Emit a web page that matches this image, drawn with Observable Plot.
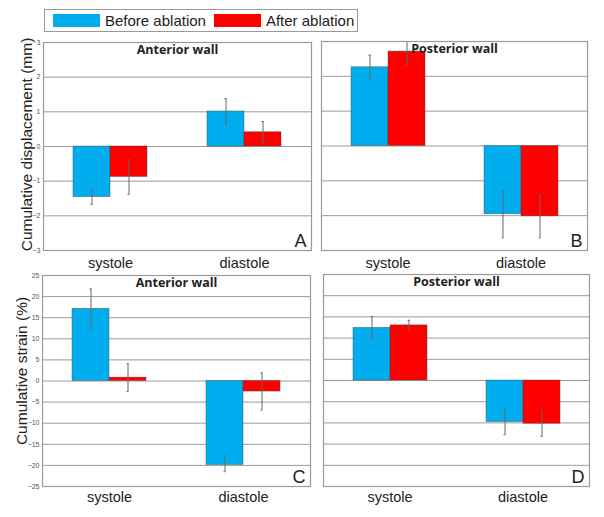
<!DOCTYPE html>
<html>
<head>
<meta charset="utf-8">
<script src="https://cdn.jsdelivr.net/npm/d3@7"></script>
<script src="https://cdn.jsdelivr.net/npm/@observablehq/plot@0.6"></script>
<style>
  body { margin: 0; background: #fff; font-family: "Liberation Sans", Arial, sans-serif; }
  #wrap { position: relative; width: 604px; height: 517px; overflow: hidden; }
  .panel { position: absolute; }
  #legend { position: absolute; left: 44px; top: 9px; width: 314px; height: 23px; box-sizing: border-box;
            border: 1px solid #9a9a9a; background: #fff; display: flex; align-items: center; font-size: 15px; color: #222; }
  .sw { display: inline-block; width: 47px; height: 13px; margin-left: 8px; margin-right: 5px; }
</style>
</head>
<body>
<div id="wrap"></div>
<script>
const phases = ["systole", "diastole"];
const conditions = ["Before ablation", "After ablation"];
const colors = ["#00AEEF", "#FF0000"];

// Cumulative displacement (mm)
const dispAntBefore = [-1.46, 1.01];
const dispAntBeforeErr = [0.21, 0.37];
const dispAntAfter = [-0.88, 0.41];
const dispAntAfterErr = [0.50, 0.31];
const dispPostBefore = [2.26, -1.96];
const dispPostBeforeErr = [0.35, 0.67];
const dispPostAfter = [2.71, -2.02];
const dispPostAfterErr = [0.38, 0.62];

// Cumulative strain (%)
const strainAntBefore = [17.1, -19.9];
const strainAntBeforeErr = [4.7, 1.6];
const strainAntAfter = [0.8, -2.5];
const strainAntAfterErr = [3.3, 4.4];
const strainPostBefore = [12.4, -9.8];
const strainPostBeforeErr = [2.7, 3.0];
const strainPostAfter = [13.0, -10.2];
const strainPostAfterErr = [1.2, 3.0];

const dispTicks = [-3, -2, -1, 0, 1, 2, 3];
const strainTicks = [-25, -20, -15, -10, -5, 0, 5, 10, 15, 20, 25];

const wrap = document.getElementById("wrap");

// legend
const legend = document.createElement("div");
legend.id = "legend";
legend.innerHTML = conditions.map((c, i) =>
  `<span class="sw" style="background:${colors[i]}"></span><span>${c}</span>`).join("");
wrap.appendChild(legend);

function rowsOf(before, beforeErr, after, afterErr) {
  return phases.flatMap((p, i) => [
    {phase: p, cond: conditions[0], v: before[i], e: beforeErr[i]},
    {phase: p, cond: conditions[1], v: after[i], e: afterErr[i]}
  ]);
}

function panel(cfg) {
  const rows = rowsOf(...cfg.series);
  const marks = [
    Plot.gridY(cfg.ticks, {stroke: "#9a9a9a", strokeOpacity: 1, strokeWidth: 1}),
    Plot.barY(rows, {fx: "phase", x: "cond", y: "v", fill: "cond", stroke: "#444", strokeWidth: 0.6, strokeOpacity: 0.7}),
    Plot.ruleX(rows, {fx: "phase", x: "cond", y1: d => d.v - d.e, y2: d => d.v + d.e, stroke: "#666", strokeWidth: 1, clip: true}),
    Plot.tickY(rows, {fx: "phase", x: "cond", y: d => d.v - d.e, stroke: "#666", insetLeft: 17.5, insetRight: 17.5, clip: true}),
    Plot.tickY(rows, {fx: "phase", x: "cond", y: d => d.v + d.e, stroke: "#666", insetLeft: 17.5, insetRight: 17.5, clip: true}),
    Plot.frame({facet: "super", stroke: "#9a9a9a", strokeWidth: 1.2}),
    Plot.axisFx({anchor: "bottom", label: null, tickSize: 0, tickPadding: cfg.xPad, fontSize: 14.5, fill: "#222"}),
    Plot.text([cfg.title], {facet: "super", text: d => d, frameAnchor: "top", dy: 3, lineAnchor: "top",
      fontFamily: "Open Sans", fontWeight: "bold", fontSize: 12.5, fill: "#222"}),
    Plot.text([cfg.letter], {facet: "super", text: d => d, frameAnchor: "bottom-right", dx: -5, dy: -4,
      textAnchor: "end", lineAnchor: "bottom", fontSize: 18, fill: "#222"})
  ];
  if (cfg.tickLabels) {
    marks.push(Plot.axisY(cfg.ticks, {anchor: "left", label: null, tickSize: 0, tickPadding: 3, fontSize: 7, fill: "#555"}));
  }
  if (cfg.yLabel) {
    marks.push(Plot.text([cfg.yLabel], {facet: "super", text: d => d, frameAnchor: "left", rotate: -90,
      textAnchor: "middle", lineAnchor: "middle", dx: cfg.yLabelDx, dy: cfg.yLabelDy, fontSize: 15.5, fill: "#222"}));
  }
  const svg = Plot.plot({
    width: cfg.width, height: cfg.height,
    marginLeft: cfg.ml, marginRight: cfg.mr, marginTop: cfg.mt, marginBottom: cfg.mb,
    style: {background: "transparent", overflow: "visible", fontFamily: "Liberation Sans, Arial, sans-serif"},
    fx: {domain: phases, padding: 0, label: null},
    x: {domain: conditions, paddingInner: 0, paddingOuter: 0.77, axis: null},
    y: {domain: cfg.domain, axis: null},
    color: {domain: conditions, range: colors},
    marks
  });
  svg.classList.add("panel");
  svg.style.left = cfg.left + "px";
  svg.style.top = cfg.top + "px";
  wrap.appendChild(svg);
}

panel({series: [dispAntBefore, dispAntBeforeErr, dispAntAfter, dispAntAfterErr],
  domain: [-3, 3], ticks: dispTicks, tickLabels: true, yLabel: "Cumulative displacement (mm)", yLabelDx: -16, yLabelDy: -2,
  title: "Anterior wall", letter: "A", xPad: 7,
  left: 0, top: 0, width: 320, height: 275, ml: 42, mr: 9, mt: 42, mb: 25});

panel({series: [dispPostBefore, dispPostBeforeErr, dispPostAfter, dispPostAfterErr],
  domain: [-3, 3], ticks: dispTicks, tickLabels: false,
  title: "Posterior wall", letter: "B", xPad: 7,
  left: 300, top: 0, width: 304, height: 275, ml: 20, mr: 17, mt: 41, mb: 25});

panel({series: [strainAntBefore, strainAntBeforeErr, strainAntAfter, strainAntAfterErr],
  domain: [-25, 25], ticks: strainTicks, tickLabels: true, yLabel: "Cumulative strain (%)", yLabelDx: -20, yLabelDy: -10,
  title: "Anterior wall", letter: "C", xPad: 5,
  left: 0, top: 260, width: 320, height: 257, ml: 42, mr: 10, mt: 15, mb: 31});

panel({series: [strainPostBefore, strainPostBeforeErr, strainPostAfter, strainPostAfterErr],
  domain: [-25, 25], ticks: strainTicks, tickLabels: false,
  title: "Posterior wall", letter: "D", xPad: 5,
  left: 300, top: 260, width: 304, height: 257, ml: 22, mr: 15, mt: 14, mb: 31});
</script>
</body>
</html>
